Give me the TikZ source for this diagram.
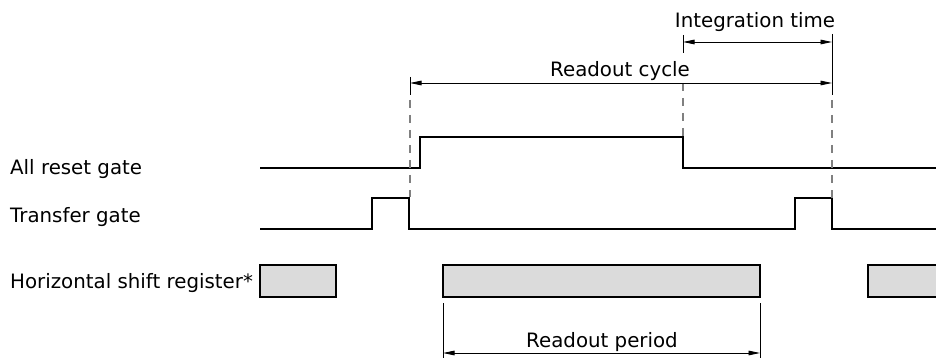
\documentclass[tikz,border=0pt]{standalone}
\usepackage{fontspec}
\setmainfont{DejaVu Sans}
\usetikzlibrary{positioning,arrows.meta}

\begin{document}
\begin{tikzpicture}[
    x=1pt, y=-1pt,
    txt/.style={inner sep=0pt, anchor=base, font=\fontsize{19.8}{23}\selectfont},
    rowlabel/.style={txt, anchor=base west},
    signal/.style={line width=1.4pt, line join=miter},
    guide/.style={line width=1.4pt, gray, dash pattern=on 8pt off 7pt},
    tick/.style={line width=0.9pt},
    dim/.style={line width=0.9pt, {Triangle[length=11.5pt,width=4.6pt]}-{Triangle[length=11.5pt,width=4.6pt]}},
    busy/.style={line width=1.1pt, fill=black!14}
]
    \useasboundingbox (0,0) rectangle (936,358);

    % row labels
    \node [rowlabel] (reset) at (10,175) {All reset gate};
    \node [rowlabel] (transfer) at (10,222) {Transfer gate};
    \node [rowlabel] (shift) at (10,288) {Horizontal shift register*};

    % time marks
    \coordinate (rcL) at (410,83);
    \coordinate (rcR) at (832,83);
    \coordinate (itL) at (683,42);
    \coordinate (itR) at (832,42);
    \coordinate (rpL) at (443,353);
    \coordinate (rpR) at (760,353);

    % waveforms
    \draw [signal] (260,168) -- (420,168) -- (420,137) -- (683,137) -- (683,168) -- (936,168);
    \draw [signal] (260,229) -- (372,229) -- (372,198) -- (409,198) -- (409,229)
        -- (795,229) -- (795,198) -- (832,198) -- (832,229) -- (936,229);

    % shift register busy blocks
    \draw [busy] (260,265) rectangle (336,297);
    \draw [busy] (443,265) rectangle (760,297);
    \fill [black!14] (868,265) rectangle (936,297);
    \draw [line width=1.1pt] (936,265) -- (868,265) -- (868,297) -- (936,297);

    % guide lines
    \draw [tick] (410,77) -- (410,95);
    \draw [guide] (410,100) -- (410,197);
    \draw [tick] (683,35) -- (683,53);
    \draw [guide] (683,83) -- (683,136);
    \draw [tick] (832,34) -- (832,95);
    \draw [guide] (832,100) -- (832,198);
    \draw [tick] (443,303) -- (443,358);
    \draw [tick] (760,303) -- (760,358);

    % dimensions
    \draw [dim] (itL) -- (itR);
    \node [txt] (intlabel) at (755,28) {Integration time};
    \draw [dim] (rcL) -- (rcR);
    \node [txt] (cyclabel) at (620,77) {Readout cycle};
    \draw [dim] (rpL) -- (rpR);
    \node [txt] (perlabel) at (602,347) {Readout period};
\end{tikzpicture}
\end{document}
